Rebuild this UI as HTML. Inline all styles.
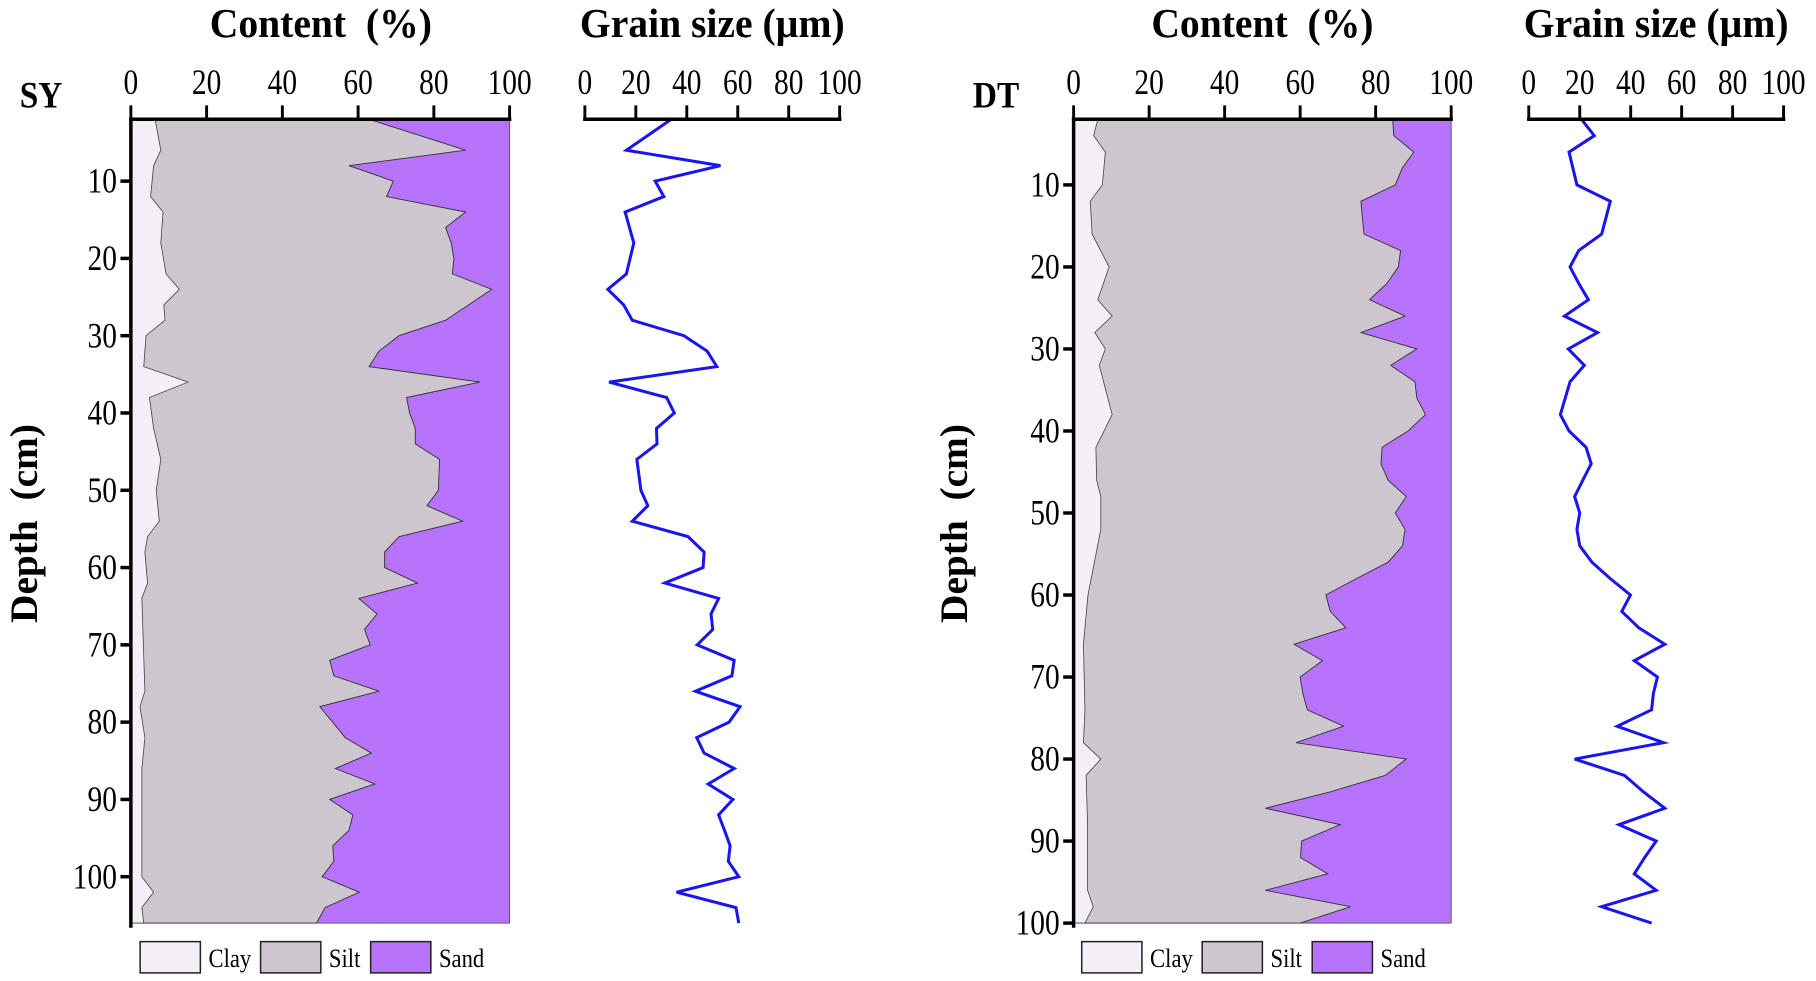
<!DOCTYPE html>
<html><head><meta charset="utf-8"><style>
html,body{margin:0;padding:0;background:#fff;}
svg{display:block;}
text{font-family:"Liberation Serif",serif;}
</style></head><body>
<svg id="s" width="1816" height="981" viewBox="0 0 1568 847" preserveAspectRatio="none" xmlns="http://www.w3.org/2000/svg"></svg>
<script>
const NS="http://www.w3.org/2000/svg";
const svg=document.getElementById('s');
function el(t,a,txt){const e=document.createElementNS(NS,t);for(const k in a)e.setAttribute(k,a[k]);if(txt!==undefined)e.textContent=txt;svg.appendChild(e);return e;}
function txt(x,y,s,a,sx,str){return el('text',Object.assign({x:0,y:0,transform:`translate(${x} ${y}) scale(${sx} 1)`,'font-size':s},a),str);}
const Y0=103,Y1=797;
function panel(o){
  const {ax,ax100,gx0,gx100,d0,d1,clay,sand,grain,ticks,name,nameX,titleC,titleG,depthX,leg}=o;
  const X=p=>ax+(ax100-ax)*p/100, Y=d=>Y0+(Y1-Y0)*(d-d0)/(d1-d0), G=v=>gx0+(gx100-gx0)*v/100;
  el('rect',{x:ax,y:Y0,width:ax100-ax,height:Y1-Y0,fill:'#b873fc',stroke:'#555','stroke-width':0.8});
  let p=[[ax,Y0]];sand.forEach(([d,v])=>p.push([X(v),Y(d)]));p.push([ax,Y1]);
  el('polygon',{points:p.map(q=>q.join(',')).join(' '),fill:'#cdc6cf',stroke:'#333','stroke-width':0.8});
  p=[[ax,Y0]];clay.forEach(([d,v])=>p.push([X(v),Y(d)]));p.push([ax,Y1]);
  el('polygon',{points:p.map(q=>q.join(',')).join(' '),fill:'#f4eff7',stroke:'#444','stroke-width':0.7});
  el('polyline',{points:grain.map(([d,v])=>G(v)+','+Y(d)).join(' '),fill:'none',stroke:'#1a14f0','stroke-width':2.6,'stroke-linejoin':'miter'});
  el('line',{x1:ax-1.5,y1:Y0,x2:ax100+1.5,y2:Y0,stroke:'#000','stroke-width':3});
  el('line',{x1:ax,y1:Y0-1.5,x2:ax,y2:Y1+4,stroke:'#000','stroke-width':3});
  el('line',{x1:gx0-1.5,y1:Y0,x2:gx100+1.5,y2:Y0,stroke:'#000','stroke-width':3});
  for(let i=0;i<=100;i+=20){
    el('line',{x1:X(i),y1:Y0,x2:X(i),y2:Y0-12,stroke:'#000','stroke-width':2.5});
    txt(X(i),81,31,{'text-anchor':'middle'},0.82,String(i));
    el('line',{x1:G(i),y1:Y0,x2:G(i),y2:Y0-12,stroke:'#000','stroke-width':2.5});
    txt(G(i),81,31,{'text-anchor':'middle'},0.82,String(i));
  }
  ticks.forEach(t=>{el('line',{x1:ax-9,y1:Y(t),x2:ax,y2:Y(t),stroke:'#000','stroke-width':3});
    txt(ax-12,Y(t)+10,31,{'text-anchor':'end'},0.82,String(t));});
  txt(nameX,93,32,{'font-weight':'bold'},0.9,name);
  txt(titleC,32,36,{'font-weight':'bold','text-anchor':'middle'},0.95,'Content\u00a0 (%)');
  txt(titleG,32,36,{'font-weight':'bold','text-anchor':'middle'},0.95,'Grain size (µm)');
  el('text',{x:depthX,y:452,'font-size':34,'font-weight':'bold','text-anchor':'middle',transform:`rotate(-90 ${depthX} 452)`},'Depth\u00a0 (cm)');
  const cols=['#f4eff7','#cdc6cf','#b873fc'],nm=['Clay','Silt','Sand'];
  leg.forEach((lx,i)=>{el('rect',{x:lx,y:813,width:52,height:27,fill:cols[i],stroke:'#222','stroke-width':1.3});
    txt(lx+59,835,23,{},0.85,nm[i]);});
}
panel({ax:113,ax100:440,gx0:505,gx100:725,d0:2,d1:106,name:'SY',nameX:17,titleC:277,titleG:615,depthX:32,
 leg:[121,225,320],ticks:[10,20,30,40,50,60,70,80,90,100],
 clay:[[2,6.4],[6,7.9],[8,6],[12,5.2],[14,8.5],[18,7.9],[22,9.3],[24,12.8],[26,8.7],[28,9],[30,4],[34,3.4],[36,15.1],[38,4.9],[42,6],[46,7.9],[50,6.7],[54,7.5],[56,4.4],[58,3.7],[62,4.4],[64,2.9],[76,3.7],[78,2.4],[82,3.7],[86,2.9],[100,2.9],[102,6],[104,2.9],[106,3.4]],
 sand:[[2,62.9],[6,88.4],[8,57.6],[10,69.3],[12,67.5],[14,88.4],[16,83.1],[18,84.6],[20,85.3],[22,84.9],[24,95.3],[28,83.1],[30,70.8],[32,65.5],[34,62.9],[36,92.2],[38,72.8],[40,73.6],[42,75.1],[44,75.1],[46,81.5],[50,81.2],[52,78.2],[54,87.6],[56,70.8],[58,67],[60,67],[62,75.7],[64,60.2],[66,65],[68,61.7],[70,63.2],[72,52.5],[74,53.6],[76,65.5],[78,49.9],[80,53.3],[82,56.6],[84,63.5],[86,54],[88,64.4],[90,52.5],[92,58.6],[94,57.6],[96,53.3],[98,53.6],[100,50.5],[102,60.3],[104,51.3],[106,49]],
 grain:[[2,33.9],[6,16.3],[8,53.2],[10,27.6],[12,31],[14,15.8],[18,19.2],[22,16.3],[24,9],[26,15.2],[28,18.6],[30,38.9],[32,48],[34,51.8],[36,9.5],[38,32.1],[40,35.1],[42,28.1],[44,28.3],[46,20.4],[50,22],[52,24.7],[54,18.6],[56,40.5],[58,46.8],[60,46.4],[62,31.4],[64,52.5],[66,49.5],[68,50.2],[70,44.1],[72,58.6],[74,57.7],[76,43.4],[78,60.9],[80,56.6],[82,43.9],[84,46.8],[86,58.6],[88,48.4],[90,58.1],[92,52.5],[94,54.8],[96,57],[98,56.3],[100,60.4],[102,36],[104,59.3],[106,60.4]]
});
panel({ax:927,ax100:1253,gx0:1320,gx100:1540,d0:2,d1:100,name:'DT',nameX:840,titleC:1090,titleG:1430,depthX:835,
 leg:[934,1038,1133],ticks:[10,20,30,40,50,60,70,80,90,100],
 clay:[[2,6.4],[4,5.3],[6,8.4],[10,7.6],[12,4.4],[16,4.9],[20,9.4],[24,6.4],[26,10.2],[28,5.6],[30,8.4],[32,6.8],[38,10.2],[42,5.9],[46,6.1],[48,7.2],[52,7.2],[60,3.8],[66,2.6],[74,3],[78,2.6],[80,7.2],[82,3.3],[88,3.7],[96,3.7],[98,5.2],[100,3]],
 sand:[[2,84.5],[4,84.8],[6,90.1],[8,87],[10,85.2],[12,76.1],[16,76.9],[18,86.6],[20,86],[22,83],[24,78.4],[26,87.8],[28,76.1],[30,90.9],[32,84],[34,90.4],[36,90.9],[38,93.2],[40,88.6],[42,81.7],[44,81.4],[46,83.3],[48,88.1],[50,85.2],[52,87.8],[54,87.1],[56,83.3],[58,74.9],[60,66.8],[62,68],[64,72.1],[66,58.4],[68,65.9],[70,60],[72,60.7],[74,61.9],[76,71.5],[78,58.9],[80,88.1],[82,82.5],[84,68],[86,50.8],[88,70.6],[90,60.4],[92,60.1],[94,67.3],[96,50.8],[98,73.4],[100,60]],
 grain:[[2,20.7],[4,25.7],[6,15.8],[10,18.9],[12,32],[16,28.6],[18,19.6],[20,16.2],[22,19.6],[24,23.4],[26,14],[28,27],[30,15.5],[32,21.8],[34,16.2],[38,12.4],[40,15.8],[42,22.5],[44,24.5],[46,21.2],[48,18],[50,20],[52,18.9],[54,20],[56,24.8],[58,32],[60,39.9],[62,36.5],[64,43.2],[66,53.4],[68,41.4],[70,50.5],[72,48.9],[74,48.2],[76,34.7],[78,52.9],[80,18],[82,37.6],[84,45],[86,53.4],[88,35.4],[90,50],[92,45.5],[94,41.4],[96,50],[98,28.6],[100,48.2]]
});
</script>
</body></html>
